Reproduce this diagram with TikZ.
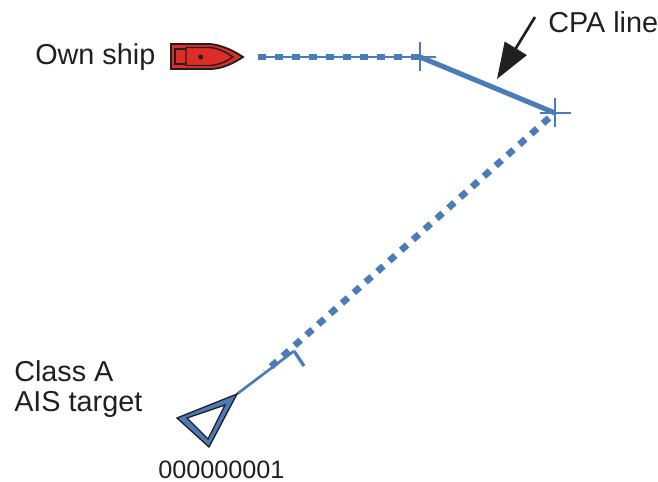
\documentclass[tikz,border=0pt]{standalone}
\usepackage{fontspec}
\setmainfont{Liberation Sans}
\usetikzlibrary{arrows.meta, positioning}
\definecolor{cTrack}{RGB}{74,124,184}
\definecolor{cHull}{RGB}{222,45,38}
\definecolor{cInk}{RGB}{35,31,32}
\tikzset{
	lab/.style      ={inner sep=0pt, text=cInk, font=\fontsize{21.6}{26}\selectfont},
	idlabel/.style  ={inner sep=0pt, text=cInk, font=\fontsize{18.9}{22}\selectfont},
	thinline/.style ={draw=cTrack, line width=1.5pt},
	owndash/.style  ={draw=cTrack, line width=4pt, dash pattern=on 6pt off 6.75pt},
	dotline/.style  ={draw=cTrack, line width=5pt, dash pattern=on 6pt off 5.9pt},
	cpaline/.style  ={draw=cTrack, line width=3.8pt},
	callout/.style  ={draw=cInk, line width=2pt, -{Triangle[length=27pt, width=19pt]}},
	hull/.style     ={draw=cInk, line width=1.4pt, fill=cHull, line join=miter},
}
\begin{document}
\begin{tikzpicture}[x=0.75pt, y=-0.75pt]
	\useasboundingbox (0,0) rectangle (658,482);
	% track points
	\coordinate (ownbow) at (243,57);
	\coordinate (cpaA) at (420,57);
	\coordinate (cpaB) at (555,113);
	\coordinate (vecstart) at (258,57);
	\coordinate (apex) at (237,394);
	\coordinate (vecend) at (294,351);
	\coordinate (dotstart) at (265,372);
	% own ship
	\draw[hull] (171,44) -- (210,44) .. controls (222,45) and (234,51) .. (ownbow) .. controls (234,63) and (222,69) .. (210,69) -- (171,69) -- cycle;
	\draw[draw=cInk, line width=1.1pt] (186,47.5) -- (210,47.5) .. controls (218,48) and (226,52) .. (233,57) .. controls (226,62) and (218,65) .. (210,65.5) -- (186,65.5) -- cycle;
	\draw[draw=cInk, line width=1.1pt] (186,49) -- (175,49) -- (175,64) -- (186,64);
	\fill[cInk] (200.7,57) circle (1.9pt);
	% vectors
	\draw[draw=cTrack, line width=1.2pt] (vecstart) -- (cpaA);
	\draw[owndash] (vecstart) -- (cpaA);
	\draw[dotline] (549,118) -- (dotstart);
	\draw[thinline, line width=2pt] (apex) -- (vecend);
	\draw[thinline, line width=2.4pt] (vecend) -- (304,366);
	\draw[cpaline] (cpaA) -- (cpaB);
	% crosses
	\draw[thinline] (420,42) -- (420,71) (cpaA) -- (436,57);
	\draw[thinline] (555,98) -- (555,127) (540,113) -- (571,113);
	% target
	\draw[draw=cInk, line width=1pt, fill=cTrack, even odd rule, line join=miter]
		(apex) -- (177,418) -- (209,447) -- cycle
		(225,405) -- (187,418) -- (208,439) -- cycle;
	% labels
	\node[lab, anchor=west] (ownlab) at (35,57) {Own ship};
	\node[lab, anchor=west] (cpalab) at (548,22) {CPA line};
	\node[lab, anchor=west] (classlab) at (14,371) {Class A};
	\node[lab, anchor=west] (aislab) at (14,404) {AIS target};
	\node[idlabel, anchor=west] (idlab) at (158,470) {000000001};
	\draw[callout] (535,17) -- (497,79);
\end{tikzpicture}
\end{document}
